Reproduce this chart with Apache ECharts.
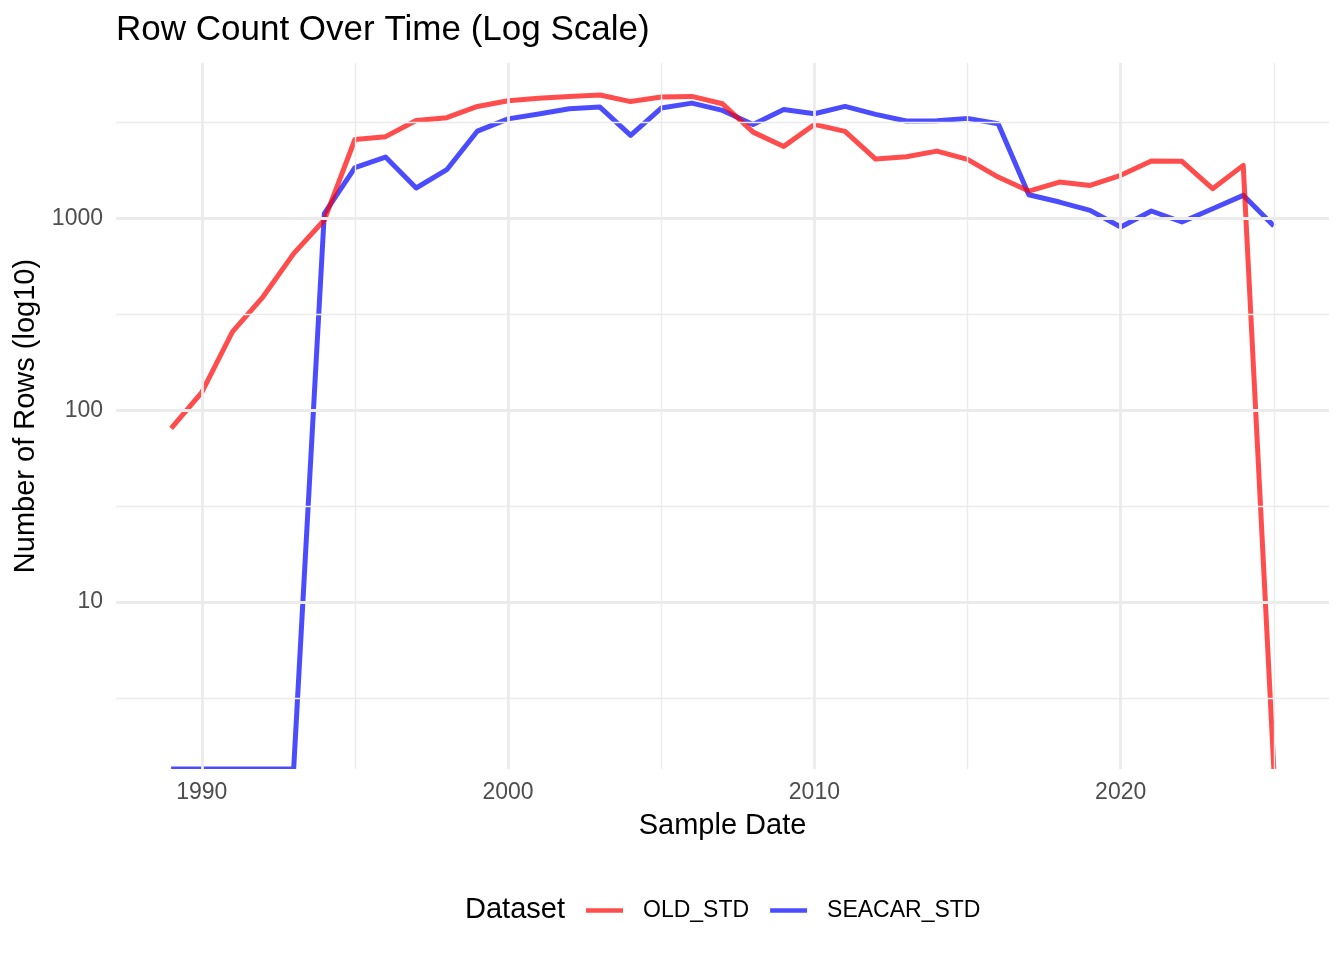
<!DOCTYPE html>
<html>
<head>
<meta charset="utf-8">
<script src="https://cdn.jsdelivr.net/npm/echarts@6/dist/echarts.min.js"></script>
<style>
  html, body { margin: 0; padding: 0; background: #ffffff; }
  #chart { width: 1344px; height: 960px; }
</style>
</head>
<body>
<div id="chart"></div>
<script>
// ---- data ----
const years = [1989, 1990, 1991, 1992, 1993, 1994, 1995, 1996, 1997, 1998, 1999,
  2000, 2001, 2002, 2003, 2004, 2005, 2006, 2007, 2008, 2009,
  2010, 2011, 2012, 2013, 2014, 2015, 2016, 2017, 2018, 2019,
  2020, 2021, 2022, 2023, 2024, 2025];
const oldStd = [80.5, 124, 256, 390, 655, 980, 2576, 2665, 3237, 3346, 3830,
  4100, 4220, 4320, 4390, 4060, 4285, 4320, 3953, 2814, 2371,
  3087, 2838, 2037, 2095, 2241, 2030, 1641, 1387, 1545, 1485,
  1675, 1989, 1982, 1427, 1888, 1.35];
const seacarStd = [1.35, 1.35, 1.35, 1.35, 1.35, 1058, 1837, 2085, 1439, 1793, 2850,
  3300, 3495, 3725, 3800, 2706, 3755, 3986, 3651, 3087, 3696,
  3508, 3831, 3481, 3214, 3228, 3319, 3112, 1328, 1216, 1101,
  901, 1092, 957, 1123, 1318, 912];
const seriesNames = ['OLD_STD', 'SEACAR_STD'];
const xTickLabels = [1990, 2000, 2010, 2020];
const xMinorGrid = [1995, 2005, 2015, 2025];
const yTickLabels = [10, 100, 1000];
const yMinorGrid = [3.1623, 31.623, 316.23, 3162.3];
const xRange = [1987.2, 2026.8];
const yRange = [1.35, 6450];

// ---- styling ----
const FONT = "'Liberation Sans', Arial, Helvetica, sans-serif";
const GRID_COLOR = '#EBEBEB';
const RED = 'rgba(255,0,0,0.7)';
const BLUE = 'rgba(0,0,255,0.7)';

function gridLines(axisKey, values, width) {
  return values.map(v => ({
    [axisKey]: v,
    lineStyle: { color: GRID_COLOR, width: width, type: 'solid' }
  }));
}

const chart = echarts.init(document.getElementById('chart'), null, { renderer: 'canvas' });

const option = {
  animation: false,
  backgroundColor: '#ffffff',
  textStyle: { fontFamily: FONT },
  title: {
    text: 'Row Count Over Time (Log Scale)',
    left: 116,
    top: 13,
    padding: 0,
    textStyle: { fontFamily: FONT, fontSize: 35, fontWeight: 'normal', color: '#000000' }
  },
  grid: { left: 116, right: 15, top: 63, bottom: 191, containLabel: false },
  xAxis: {
    type: 'value',
    min: xRange[0],
    max: xRange[1],
    name: 'Sample Date',
    nameLocation: 'middle',
    nameGap: 42,
    nameTextStyle: { fontFamily: FONT, fontSize: 29, color: '#000000' },
    axisLine: { show: false },
    axisTick: { show: false },
    splitLine: { show: false },
    axisLabel: {
      customValues: xTickLabels,
      margin: 12,
      fontFamily: FONT,
      fontSize: 23,
      color: '#4D4D4D',
      formatter: v => String(Math.round(v))
    }
  },
  yAxis: {
    type: 'log',
    logBase: 10,
    min: yRange[0],
    max: yRange[1],
    name: 'Number of Rows (log10)',
    nameLocation: 'middle',
    nameRotate: 90,
    nameGap: 72,
    nameTextStyle: { fontFamily: FONT, fontSize: 29, color: '#000000' },
    axisLine: { show: false },
    axisTick: { show: false },
    splitLine: { show: false },
    minorSplitLine: { show: false },
    axisLabel: {
      customValues: yTickLabels,
      margin: 13,
      fontFamily: FONT,
      fontSize: 23,
      color: '#4D4D4D',
      formatter: v => String(Math.round(v))
    }
  },
  legend: {
    data: seriesNames,
    left: 586,
    top: 899,
    padding: 0,
    orient: 'horizontal',
    icon: 'rect',
    itemWidth: 37,
    itemHeight: 4.5,
    itemGap: 21,
    selectedMode: false,
    textStyle: { fontFamily: FONT, fontSize: 23, color: '#000000', padding: [0, 0, 0, 15] }
  },
  graphic: [
    {
      type: 'text',
      left: 465,
      top: 895,
      style: { text: 'Dataset', font: "29px " + FONT, fill: '#000000' }
    },
    {
      type: 'rect',
      z: 100,
      shape: { x: 100, y: 769, width: 1240, height: 4 },
      style: { fill: '#ffffff' },
      silent: true
    }
  ],
  series: [
    {
      name: '__grid__',
      type: 'line',
      data: [[1990, 100]],
      symbol: 'none',
      lineStyle: { opacity: 0 },
      silent: true,
      z: 1,
      markLine: {
        silent: true,
        symbol: ['none', 'none'],
        label: { show: false },
        animation: false,
        data: [
          ...gridLines('yAxis', yMinorGrid, 1.4),
          ...gridLines('xAxis', xMinorGrid, 1.4),
          ...gridLines('yAxis', yTickLabels, 2.8),
          ...gridLines('xAxis', xTickLabels, 2.8)
        ]
      }
    },
    {
      name: seriesNames[1],
      type: 'line',
      data: years.map((y, i) => [y, seacarStd[i]]),
      symbol: 'none',
      showSymbol: false,
      z: 3,
      itemStyle: { color: BLUE },
      lineStyle: { color: BLUE, width: 5, join: 'round', cap: 'butt' }
    },
    {
      name: seriesNames[0],
      type: 'line',
      data: years.map((y, i) => [y, oldStd[i]]),
      symbol: 'none',
      showSymbol: false,
      z: 4,
      itemStyle: { color: RED },
      lineStyle: { color: RED, width: 5, join: 'round', cap: 'butt' }
    }
  ]
};

chart.setOption(option);
</script>
</body>
</html>
